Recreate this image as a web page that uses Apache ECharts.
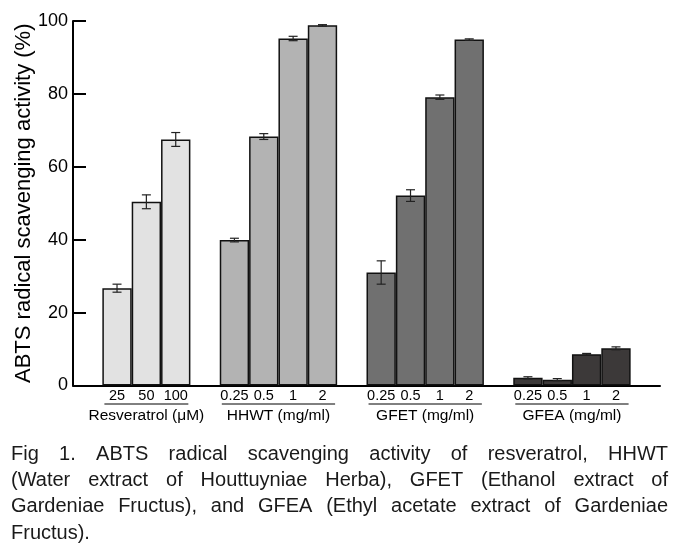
<!DOCTYPE html>
<html>
<head>
<meta charset="utf-8">
<script src="https://cdn.jsdelivr.net/npm/echarts@6/dist/echarts.min.js"></script>
<style>
html,body{margin:0;padding:0;background:#fff;}
#chart{width:679px;height:549px;}
</style>
</head>
<body>
<div id="chart"></div>
<script>
// ---- data ----
const groupNames = ['Resveratrol (\u03bcM)', 'HHWT (mg/ml)', 'GFET (mg/ml)', 'GFEA (mg/ml)'];
const resveratrolDoses = ['25', '50', '100'];
const extractDoses = ['0.25', '0.5', '1', '2'];
const resveratrolValues = [26.7, 50.4, 67.5];
const resveratrolErrors = [1.1, 1.9, 1.9];
const hhwtValues = [39.9, 68.3, 95.2, 98.8];
const hhwtErrors = [0.5, 0.8, 0.6, 0.2];
const gfetValues = [31.0, 52.1, 79.1, 94.9];
const gfetErrors = [3.2, 1.6, 0.6, 0.2];
const gfeaValues = [2.1, 1.6, 8.6, 10.2];
const gfeaErrors = [0.3, 0.3, 0.2, 0.4];
const yTicks = [0, 20, 40, 60, 80, 100];
const yAxisTitle = 'ABTS radical scavenging activity (%)';
const captionLines = [
  'Fig 1. ABTS radical scavenging activity of resveratrol, HHWT',
  '(Water extract of Houttuyniae Herba), GFET (Ethanol extract of',
  'Gardeniae Fructus), and GFEA (Ethyl acetate extract of Gardeniae',
  'Fructus).'
];
const groupColors = ['#e2e2e2', '#b3b3b3', '#707070', '#3c3939'];

// ---- build slots ----
const groups = [
  {doses: resveratrolDoses, values: resveratrolValues, errors: resveratrolErrors},
  {doses: extractDoses, values: hhwtValues, errors: hhwtErrors},
  {doses: extractDoses, values: gfetValues, errors: gfetErrors},
  {doses: extractDoses, values: gfeaValues, errors: gfeaErrors}
];
const categories = [''];
const barData = [null];
const errData = [];
const groupRanges = [];
groups.forEach((g, gi) => {
  const start = categories.length;
  g.doses.forEach((d, i) => {
    const idx = categories.length;
    categories.push(d);
    barData.push({value: g.values[i], itemStyle: {color: groupColors[gi]}});
    errData.push([idx, g.values[i], g.errors[i]]);
  });
  groupRanges.push([start, categories.length - 1]);
  categories.push('');
  barData.push(null);
});

const FONT = '"Liberation Sans", Arial, sans-serif';
const chart = echarts.init(document.getElementById('chart'), null, {renderer: 'canvas'});

const option = {
  animation: false,
  backgroundColor: '#ffffff',
  grid: {left: 73, right: 19, top: 21, bottom: 163.5, containLabel: false, outerBoundsMode: 'none'},
  xAxis: {
    type: 'category',
    data: categories,
    boundaryGap: true,
    axisLine: {show: true, lineStyle: {color: '#000', width: 2}},
    axisTick: {show: false},
    axisLabel: {interval: 0, color: '#000', fontSize: 14.5, fontFamily: FONT, margin: 3}
  },
  yAxis: {
    type: 'value',
    min: yTicks[0], max: yTicks[yTicks.length - 1], interval: 20,
    name: yAxisTitle,
    nameLocation: 'middle',
    nameGap: 38,
    nameMoveOverlap: false,
    nameRotate: 90,
    nameTextStyle: {color: '#000', fontSize: 22, fontFamily: FONT},
    axisLine: {show: true, lineStyle: {color: '#000', width: 2}},
    axisTick: {show: true, inside: true, length: 13, lineStyle: {color: '#000', width: 2}},
    axisLabel: {color: '#000', fontSize: 18, fontFamily: FONT, margin: 5},
    splitLine: {show: false}
  },
  series: [
    {
      type: 'bar',
      data: barData,
      barWidth: '100%',
      itemStyle: {borderColor: '#111', borderWidth: 1.5},
      z: 2
    },
    {
      type: 'custom',
      data: errData,
      z: 5,
      renderItem: function (params, api) {
        const x = api.value(0), m = api.value(1), e = api.value(2);
        const hi = api.coord([x, m + e]);
        const lo = api.coord([x, m - e]);
        const cw = 4.5;
        const st = {stroke: '#222', lineWidth: 1.2};
        return {
          type: 'group',
          children: [
            {type: 'line', shape: {x1: hi[0], y1: hi[1], x2: lo[0], y2: lo[1]}, style: st},
            {type: 'line', shape: {x1: hi[0] - cw, y1: hi[1], x2: hi[0] + cw, y2: hi[1]}, style: st},
            {type: 'line', shape: {x1: lo[0] - cw, y1: lo[1], x2: lo[0] + cw, y2: lo[1]}, style: st}
          ]
        };
      }
    }
  ]
};
chart.setOption(option);

// ---- group labels, underlines, caption ----
const graphics = [];
const slotW = chart.convertToPixel({xAxisIndex: 0}, 1) - chart.convertToPixel({xAxisIndex: 0}, 0);
groupRanges.forEach((r, gi) => {
  const x1 = chart.convertToPixel({xAxisIndex: 0}, r[0]) - slotW * 0.43;
  const x2 = chart.convertToPixel({xAxisIndex: 0}, r[1]) + slotW * 0.43;
  graphics.push({type: 'line', shape: {x1: x1, y1: 404, x2: x2, y2: 404}, style: {stroke: '#000', lineWidth: 1}});
  graphics.push({type: 'text', x: (x1 + x2) / 2, y: 415.5,
    style: {text: groupNames[gi], fill: '#000', font: '15.5px ' + FONT, align: 'center', verticalAlign: 'middle'}});
});

const cv = document.createElement('canvas').getContext('2d');
const fs = 20;
const capLeft = 11, capRight = 668, capW = capRight - capLeft;
cv.font = fs + 'px ' + FONT;
let maxW = 0;
captionLines.forEach(l => { maxW = Math.max(maxW, cv.measureText(l).width); });
const sx = Math.min(1, (capW - 12) / maxW);
const capY = [454, 480.5, 506.5, 533];
captionLines.forEach((line, li) => {
  const words = line.split(' ');
  const justify = li < captionLines.length - 1;
  const widths = words.map(w => cv.measureText(w).width * sx);
  const total = widths.reduce((a, b) => a + b, 0);
  const gap = justify ? (capW - total) / (words.length - 1) : cv.measureText(' ').width * sx;
  let x = capLeft;
  words.forEach((w, wi) => {
    graphics.push({type: 'text', x: x, y: capY[li], scaleX: sx,
      style: {text: w, fill: '#1a1a1a', font: fs + 'px ' + FONT, align: 'left', verticalAlign: 'middle'}});
    x += widths[wi] + gap;
  });
});
chart.setOption({graphic: graphics});
</script>
</body>
</html>
